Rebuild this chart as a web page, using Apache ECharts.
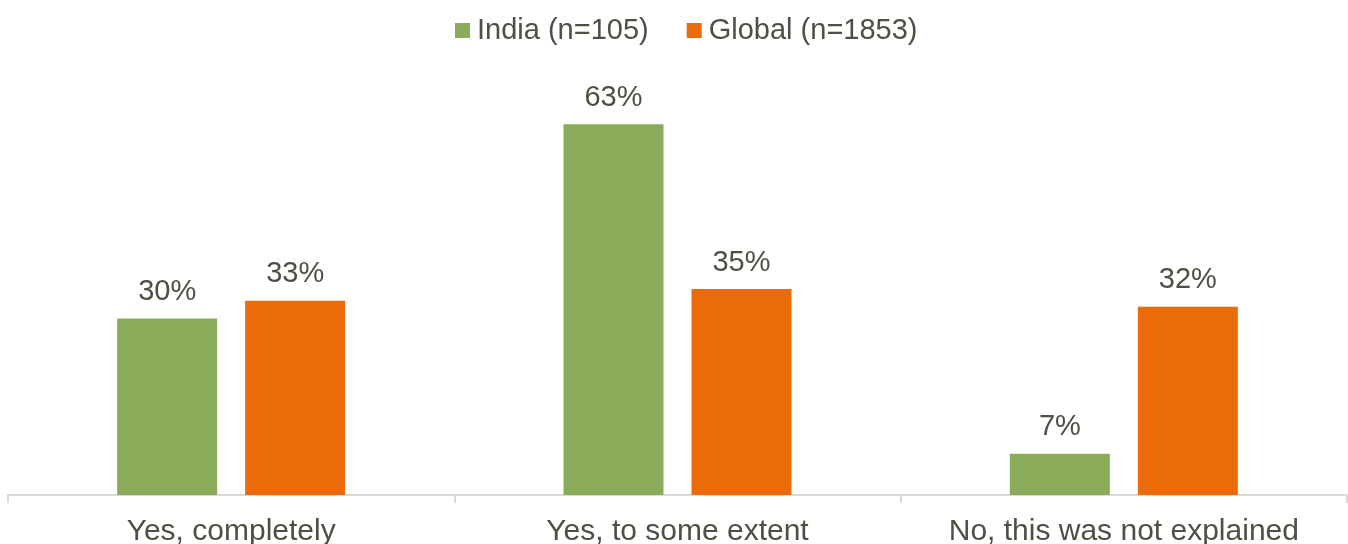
<!DOCTYPE html>
<html>
<head>
<meta charset="utf-8">
<script src="https://cdn.jsdelivr.net/npm/echarts@6/dist/echarts.min.js"></script>
<style>
html,body{margin:0;padding:0;background:#fff;}
#chart{width:1348px;height:544px;}
</style>
</head>
<body>
<div id="chart"></div>
<script>
// Survey answers, share of respondents (%)
const categories = ['Yes, completely', 'Yes, to some extent', 'No, this was not explained'];
const seriesNames = ['India (n=105)', 'Global (n=1853)'];
const indiaValues = [30, 63, 7];
const globalValues = [33, 35, 32];

const textColor = '#4b5243';
const fontFamily = '"Liberation Sans", Arial, sans-serif';

const chart = echarts.init(document.getElementById('chart'));

const labelStyle = {
  show: true,
  position: 'top',
  distance: 12,
  formatter: '{c}%',
  color: textColor,
  fontSize: 29,
  fontFamily: fontFamily
};

chart.setOption({
  animation: false,
  legend: {
    top: 11,
    left: 450,
    itemWidth: 15,
    itemHeight: 15,
    itemGap: 38,
    icon: 'rect',
    textStyle: { color: textColor, fontSize: 29, fontFamily: fontFamily, padding: [0, 0, 0, 2] },
    data: seriesNames
  },
  grid: { left: 8, right: 1, top: 83, bottom: 49, containLabel: false, outerBoundsMode: 'none' },
  xAxis: {
    type: 'category',
    data: categories,
    axisLine: { lineStyle: { color: '#d9d9d9', width: 2 } },
    axisTick: { show: true, interval: 0, length: 8, lineStyle: { color: '#d9d9d9', width: 2 } },
    axisLabel: { interval: 0, hideOverlap: false, color: textColor, fontSize: 30, fontFamily: fontFamily, margin: 22 }
  },
  yAxis: {
    type: 'value',
    min: 0,
    max: 70,
    show: false,
    splitLine: { show: false }
  },
  series: [
    {
      name: seriesNames[0],
      type: 'bar',
      data: indiaValues,
      barWidth: 100,
      barGap: '28%',
      itemStyle: { color: '#8aac5a' },
      label: labelStyle
    },
    {
      name: seriesNames[1],
      type: 'bar',
      data: globalValues,
      barWidth: 100,
      itemStyle: { color: '#eb6a0a' },
      label: labelStyle
    }
  ]
});
</script>
</body>
</html>
